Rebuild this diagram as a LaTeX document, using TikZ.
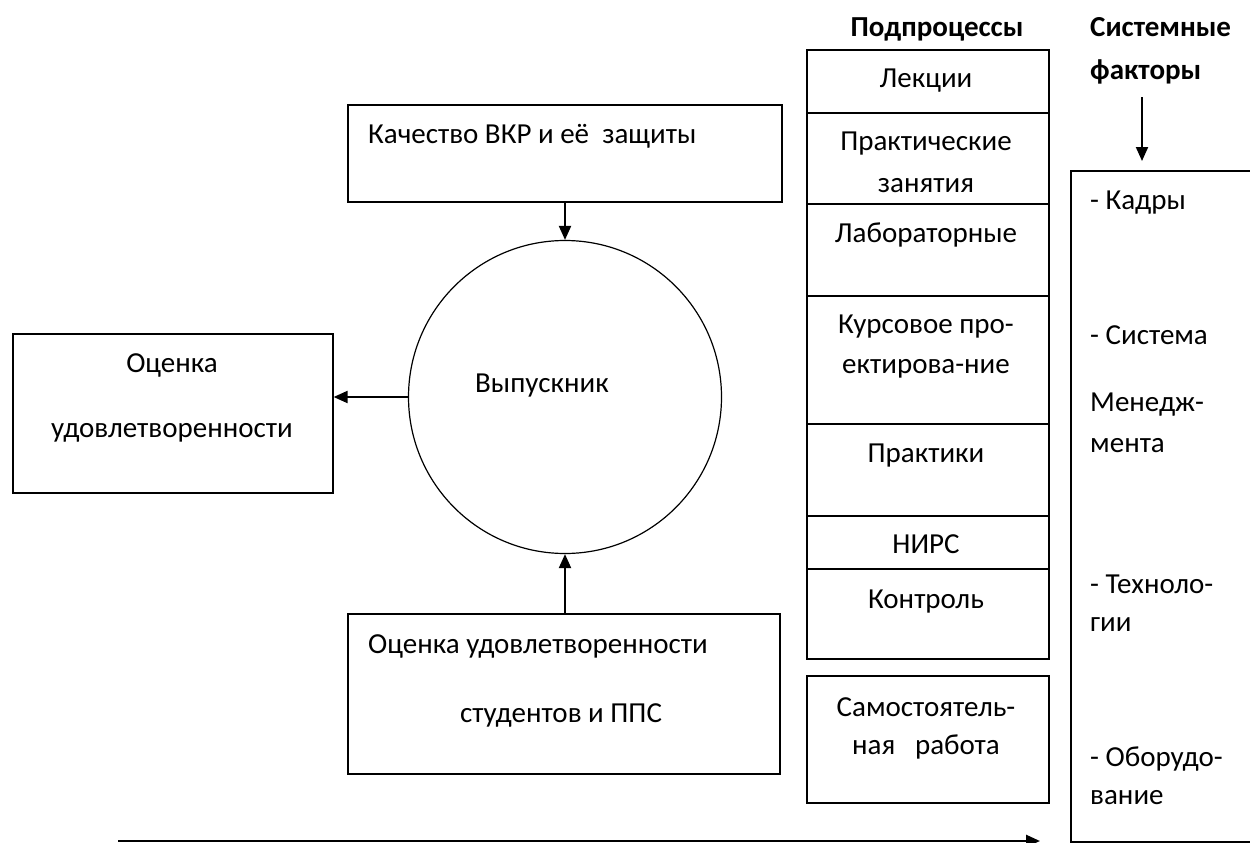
\documentclass[tikz,border=0pt]{standalone}
\usepackage{fontspec}
\setmainfont{Carlito}
\usetikzlibrary{arrows.meta}
\begin{document}
\begin{tikzpicture}[x=1pt,y=-1pt,
  font=\fontsize{29}{35}\selectfont,
  box/.style={draw, line width=1.6pt, anchor=north west, inner sep=0},
  arr/.style={line width=2pt, -{Triangle[length=14pt,width=12pt]}},
  txt/.style={inner sep=0, anchor=base},
  ltxt/.style={inner sep=0, anchor=base west},
  hdr/.style={inner sep=0, font=\fontsize{29}{35}\selectfont\bfseries}]
\useasboundingbox (0,0) rectangle (1250,843);

% left part
\node[box, minimum width=434pt, minimum height=97pt] (kach) at (347,104) {};
\node[ltxt] (kachT) at (368,143) {Качество ВКР и её\ \ защиты};
\node[draw, circle, line width=1.2pt, minimum size=313pt, inner sep=0] (grad) at (565,397) {};
\node[ltxt] (gradT) at (475,392) {Выпускник};
\node[box, minimum width=320pt, minimum height=159pt] (ocen) at (12,333) {};
\node[txt] (ocenT1) at (172,372) {Оценка};
\node[txt] (ocenT2) at (172,437) {удовлетворенности};
\node[box, minimum width=432pt, minimum height=160pt] (stud) at (347,613) {};
\node[ltxt] (studT1) at (368,653) {Оценка удовлетворенности};
\node[ltxt] (studT2) at (460,722) {студентов и ППС};

\draw[arr] (grad.north |- kach.south) -- (grad.north);
\draw[arr] (grad.west) -- (ocen.east |- grad.west);
\draw[arr] (grad.south |- stud.north) -- (grad.south);

% subprocesses column
\node[hdr, anchor=base] (hSub) at (937,37) {Подпроцессы};
\node[box, minimum width=242pt, minimum height=63pt] (c1) at (806,49) {};
\node[box, minimum width=242pt, minimum height=91pt] (c2) at (806,112) {};
\node[box, minimum width=242pt, minimum height=92pt] (c3) at (806,203) {};
\node[box, minimum width=242pt, minimum height=128pt] (c4) at (806,295) {};
\node[box, minimum width=242pt, minimum height=92pt] (c5) at (806,423) {};
\node[box, minimum width=242pt, minimum height=53pt] (c6) at (806,515) {};
\node[box, minimum width=242pt, minimum height=90pt] (c7) at (806,568) {};
\node[box, minimum width=242pt, minimum height=127pt] (c8) at (806,675) {};
\node[txt] (t1) at (926,88) {Лекции};
\node[txt] (t2a) at (926,150) {Практические};
\node[txt] (t2b) at (926,192) {занятия};
\node[txt] (t3) at (926,242) {Лабораторные};
\node[txt] (t4a) at (926,333) {Курсовое про-};
\node[txt] (t4b) at (926,373) {ектирова-ние};
\node[txt] (t5) at (926,462) {Практики};
\node[txt] (t6) at (926,553) {НИРС};
\node[txt] (t7) at (926,608) {Контроль};
\node[txt] (t8a) at (926,716) {Самостоятель-};
\node[txt] (t8b) at (926,754) {ная\ \ \ работа};

% system factors
\node[hdr, anchor=base west] (hSys1) at (1090,37) {Системные};
\node[hdr, anchor=base west] (hSys2) at (1090,79) {факторы};
\node[box, minimum width=220pt, minimum height=671pt] (sf) at (1070,170) {};
\coordinate (sfa) at (1142,97);
\draw[arr, shorten >=9pt] (sfa) -- (sfa |- sf.north);
\node[ltxt] (f1) at (1090,209) {- Кадры};
\node[ltxt] (f2a) at (1090,344) {- Система};
\node[ltxt] (f2b) at (1090,411) {Менедж-};
\node[ltxt] (f2c) at (1090,452) {мента};
\node[ltxt] (f3a) at (1090,593) {- Техноло-};
\node[ltxt] (f3b) at (1090,631) {гии};
\node[ltxt] (f4a) at (1090,766) {- Оборудо-};
\node[ltxt] (f4b) at (1090,804) {вание};

% time axis
\coordinate (ax0) at (118,841);
\coordinate (ax1) at (1040,841);
\draw[arr, line width=2.5pt] (ax0) -- (ax1);
\end{tikzpicture}
\end{document}
